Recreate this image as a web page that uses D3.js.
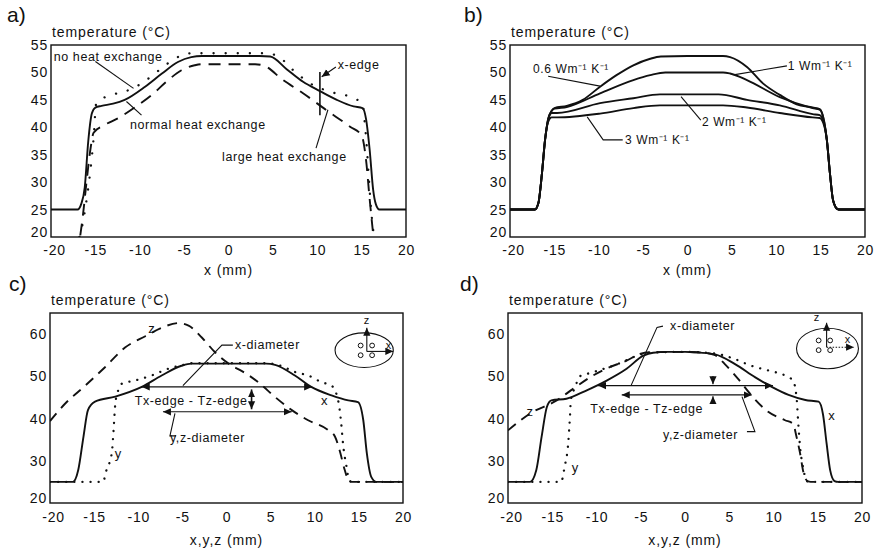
<!DOCTYPE html>
<html><head><meta charset="utf-8">
<script src="https://cdn.jsdelivr.net/npm/d3@7"></script>
<style>
body{margin:0;background:#fff}
svg text{font-family:"Liberation Sans",Arial,Helvetica,sans-serif;fill:#111}
</style></head><body>
<svg id="fig" width="875" height="551" style="background:#fff"></svg>
<script>
// ---------- tick values ----------
const xTicks = [-20,-15,-10,-5,0,5,10,15,20];
const yTicksAB = [20,25,30,35,40,45,50,55];
const yTicksCD = [20,30,40,50,60];

// ---------- panel a: [x (mm), T (°C)] ----------
const aNormal = [[-20,25],[-17.0,25],[-16.6,26],[-16.2,29],[-15.8,37.5],[-15.4,42.5],[-15.0,43.6],[-14.3,43.9],[-13,44.3],[-11.7,45],[-9.4,47.4],[-7.5,49.8],[-5.7,51.9],[-4.2,52.8],[-3,53],[0,53],[3.5,53],[4.7,52.9],[6.55,50.6],[8.4,48.3],[10.3,46.6],[12.2,45],[14.1,43.8],[15.1,43.5],[15.5,41.5],[15.9,36],[16.3,28.6],[16.6,26],[17.0,25],[20,25]];
const aNone = [[-16.8,20],[-16.5,21.9],[-16.0,26.7],[-15.6,31.6],[-15.2,38],[-14.9,44.4],[-13.2,45.9],[-11.7,46.5],[-9.8,48],[-8.3,49.8],[-6.8,51.7],[-5.3,53.1],[-4,53.5],[0,53.5],[4,53.5],[5.4,53.1],[7.3,50.4],[9.2,48],[11.4,46.5],[14.1,45.3],[15.1,44.3],[15.4,40],[15.6,36],[15.8,31],[16.1,24.4],[16.4,20]];
const aLarge = [[-16.7,20.3],[-16.4,24],[-16.0,30],[-15.6,35.5],[-15.2,39],[-14.1,40.3],[-12.4,41.7],[-10.5,43.7],[-8.65,45.9],[-6.8,48.6],[-5.3,50.4],[-3.8,51.3],[-3,51.5],[0,51.5],[3,51.5],[3.9,51.3],[6.15,48.6],[8.4,46.2],[11.05,43.1],[13.7,40.1],[15.0,38.5],[15.5,34],[15.9,27],[16.3,20.5]];

// ---------- panel b ----------
const b06 = [[-20,25],[-17.2,25],[-16.8,26.2],[-16.4,31.6],[-16.05,37.7],[-15.7,41.5],[-15.3,43],[-15.0,43.5],[-13.6,43.9],[-11.8,45],[-9.85,47.4],[-8,49.5],[-6.1,51.3],[-4.2,52.5],[-3,52.9],[0,53],[4,53],[4.8,52.8],[6.7,51],[8.5,48],[10.4,45.9],[12.3,44.2],[14.1,43.6],[14.9,43.3],[15.4,41],[15.7,37.7],[16.05,31.6],[16.4,26.7],[16.9,25.1],[17.2,25],[20,25]];
const b1 = [[-20,25],[-17.2,25],[-16.8,26.2],[-16.4,31.6],[-16.05,37.7],[-15.7,41.5],[-15.3,43],[-15.0,43.4],[-13.6,43.7],[-9.85,46.2],[-6.1,48.6],[-4.2,49.5],[-2.5,50],[0,50],[4,50],[4.8,49.8],[6.7,48.6],[10.4,45.5],[14.1,43.5],[14.9,43.2],[15.4,41],[15.7,37.7],[16.05,31.6],[16.4,26.7],[16.9,25.1],[17.2,25],[20,25]];
const b2 = [[-20,25],[-17.2,25],[-16.8,26.2],[-16.4,31.6],[-16.05,37.7],[-15.7,41.3],[-15.3,42.6],[-14.7,42.6],[-9.85,44.4],[-6.1,45.3],[-3.1,46],[0,46],[3.5,46],[6.7,45],[10.4,44],[14.1,42.4],[14.9,42.2],[15.4,40.6],[15.7,37.7],[16.05,31.6],[16.4,26.7],[16.9,25.1],[17.2,25],[20,25]];
const b3 = [[-20,25],[-17.2,25],[-16.8,26.2],[-16.4,31.6],[-16.05,37.7],[-15.7,41],[-15.3,41.8],[-14.7,41.8],[-9.85,42.5],[-6.1,43.5],[-3.1,44],[0,44],[4,44],[6.7,43.6],[10.4,42.6],[14.1,41.8],[14.9,41.7],[15.4,40.3],[15.7,37.7],[16.05,31.6],[16.4,26.7],[16.9,25.1],[17.2,25],[20,25]];

// ---------- panel c ----------
const cX = [[-20,25],[-17.4,25],[-16.8,27.8],[-16.2,35.8],[-15.7,42],[-14.9,44],[-12.6,45.2],[-9.6,47.5],[-7.35,50.2],[-5.1,52.5],[-4,53],[0,53],[4.5,53],[5.5,52.7],[7.75,50.2],[9.6,47.5],[11.9,45.5],[13.8,44.3],[14.9,43.9],[15.5,39.6],[15.9,31.8],[16.4,26.2],[17,25],[20,25]];
const cY = [[-20,25],[-14.0,25],[-13.6,27.8],[-13.0,31.8],[-12.8,37.2],[-12.6,43.5],[-12.3,46.5],[-11.9,48.2],[-10.4,49.0],[-8.5,50.2],[-6.6,51.8],[-5.1,52.6],[-4,53.1],[0,53.1],[4.5,53.1],[6,52.6],[7.8,51],[9.25,50.2],[10.8,48.6],[11.9,47.8],[12.65,44.3],[13.0,38.8],[13.2,34.1],[13.6,28.6],[13.9,25.4],[14.2,25],[20,25]];
const cZ = [[-20,39.4],[-18.3,43.5],[-16,47.8],[-13.8,52.1],[-11.5,56.8],[-9.2,59.5],[-7.35,61.5],[-5.5,62.6],[-4.3,62],[-2.8,59.2],[-1.3,55.7],[0.6,52.5],[1.7,51.3],[3.6,48.6],[5.5,45.1],[7.4,42],[9.25,39.6],[11.5,37.3],[12.3,35.7],[12.8,32.6],[13.4,27.8],[13.8,25.4],[14.2,25],[20,25]];

// ---------- panel d ----------
const dX = [[-20,25],[-17.5,25],[-16.8,27.8],[-16.2,35.7],[-15.6,42.8],[-15.1,44.3],[-13.4,44.7],[-11.1,46.7],[-8.85,49],[-6.6,51.8],[-4.7,54.9],[-3.6,55.6],[-2,55.8],[0,55.8],[1.1,55.7],[3.4,55.2],[5.65,52.9],[7.9,49.8],[9.8,47.5],[11.7,45.6],[13.6,44.4],[15.1,44],[15.6,40.9],[16,34.1],[16.4,27.8],[16.9,25.2],[17.3,25],[20,25]];
const dY = [[-20,25],[-14,25],[-13.6,28.6],[-13.2,34.1],[-13.0,40.4],[-12.9,44.3],[-12.4,47.5],[-11.9,50],[-10.7,50.8],[-9.6,51.5],[-7.5,53],[-5.5,54.8],[-4,55.6],[0,55.8],[3.4,55.4],[5.5,54.2],[7.5,52.5],[9.4,51.4],[11.3,50.2],[12.2,49],[12.6,45.1],[12.8,38.8],[13.0,33.4],[13.4,27.8],[13.7,25.4],[14,25],[20,25]];
const dZ = [[-20,37.2],[-17.5,41.2],[-14.5,44.3],[-12.6,47.1],[-10.7,49.8],[-8.5,52.2],[-6.6,53.7],[-5.1,55.3],[-4,55.7],[0,55.8],[2,55.6],[3.4,55],[4.5,52.9],[6,49.4],[7.5,45.5],[9.4,41.6],[11.3,39.6],[12.2,38.8],[12.6,35.7],[13,31.8],[13.4,27.1],[13.9,25.1],[14.2,25],[20,25]];

// ---------- drawing ----------
const svg = d3.select("#fig");
svg.append("rect").attr("width",875).attr("height",551).attr("fill","#fff");
const defs = svg.append("defs");
defs.append("marker").attr("id","ah").attr("viewBox","0 0 10 10")
  .attr("refX",10).attr("refY",5).attr("markerWidth",8).attr("markerHeight",8)
  .attr("markerUnits","userSpaceOnUse").attr("orient","auto-start-reverse")
  .append("path").attr("d","M0,0.5L10,5L0,9.5Z").attr("fill","#111");

const INK = "#111";
const FONT = '"Liberation Sans",Arial,Helvetica,sans-serif';

function panel(o){
  const x = d3.scaleLinear().domain([-20,20]).range([o.l,o.r]);
  const y = d3.scaleLinear().domain(o.yd).range([o.b,o.t]);
  const g = svg.append("g");
  defs.append("clipPath").attr("id","clip"+o.id).append("rect")
    .attr("x",o.l).attr("y",o.t).attr("width",o.r-o.l).attr("height",o.b-o.t);
  const ax = g.append("g").attr("transform",`translate(0,${o.b})`)
    .call(d3.axisBottom(x).tickValues(xTicks).tickSize(0).tickPadding(o.xpad).tickFormat(d=>String(d)));
  const ay = g.append("g").attr("transform",`translate(${o.l},0)`)
    .call(d3.axisLeft(y).tickValues(o.yt).tickSize(0).tickPadding(3).tickFormat(d=>String(d)));
  [ax,ay].forEach(a=>{
    a.select(".domain").remove();
    a.selectAll("text").attr("font-size",14).attr("letter-spacing",0.8)
      .attr("font-family",FONT).attr("fill",INK);
  });
  // keep the corner labels apart as in the reference
  ax.selectAll(".tick").filter(d=>d===-20).select("text").attr("dx",3);
  ay.selectAll(".tick").filter(d=>d===20).select("text").attr("dy","-0.05em");
  g.append("rect").attr("x",o.l).attr("y",o.t).attr("width",o.r-o.l).attr("height",o.b-o.t)
    .attr("fill","none").attr("stroke",INK).attr("stroke-width",1.4);
  g.append("text").attr("x",o.lx).attr("y",o.ly).attr("font-size",21).text(o.letter);
  g.append("text").attr("x",o.l+1).attr("y",o.t-8).attr("font-size",14).attr("letter-spacing",0.9)
    .text("temperature (°C)");
  g.append("text").attr("x",(o.l+o.r)/2).attr("y",o.b+o.xty).attr("text-anchor","middle")
    .attr("font-size",14).attr("letter-spacing",0.9).text(o.xt);
  const lines = g.append("g").attr("clip-path",`url(#clip${o.id})`);
  const gen = d3.line().x(d=>x(d[0])).y(d=>y(d[1])).curve(d3.curveMonotoneX);
  function curve(data, style){
    const p = lines.append("path").datum(data).attr("d",gen).attr("fill","none")
      .attr("stroke",INK).attr("stroke-linejoin","round");
    if(style==="solid") p.attr("stroke-width",1.9);
    else if(style==="dash") p.attr("stroke-width",1.9).attr("stroke-dasharray",o.dash);
    else p.attr("stroke-width",2.3).attr("stroke-linecap","round").attr("stroke-dasharray",o.dot);
    return p;
  }
  function text(xv,yv,s,size,anchor){
    return g.append("text").attr("x",x(xv)).attr("y",y(yv)).attr("font-size",size||12.5)
      .attr("letter-spacing",0.6).attr("text-anchor",anchor||"start").text(s);
  }
  function poly(pts,opts){
    opts = opts||{};
    const p = g.append("path").attr("d",d3.line().x(d=>x(d[0])).y(d=>y(d[1]))(pts))
      .attr("fill","none").attr("stroke",INK).attr("stroke-width",opts.w||1.1);
    if(opts.end) p.attr("marker-end","url(#ah)");
    if(opts.start) p.attr("marker-start","url(#ah)");
    if(opts.dash) p.attr("stroke-dasharray",opts.dash);
    return p;
  }
  return {x,y,g,curve,text,poly};
}

// ---- a ----
const A = panel({id:"a",l:51,r:406,t:45,b:237,yd:[20,55],yt:yTicksAB,letter:"a)",lx:7,ly:22,xt:"x (mm)",xty:38,xpad:8,dash:"12,8",dot:"0.1,12"});
A.curve(aNone,"dot");
A.curve(aLarge,"dash");
A.curve(aNormal,"solid");
A.text(-19.7,52.1,"no heat exchange");
A.poly([[-15.0,52.0],[-10.7,47.1]]);
A.text(-11.1,39.7,"normal heat exchange");
A.poly([[-11.5,44.7],[-9.8,42.2]]);
A.text(12.3,50.6,"x-edge");
A.poly([[12.1,51.0],[10.5,49.2]],{end:true});
A.poly([[10.3,50.1],[10.3,42.2]],{w:1.6});
A.text(-0.73,33.85,"large heat exchange");
A.poly([[9.86,36.2],[11.2,43.2]]);

// ---- b ----
const B = panel({id:"b",l:510,r:865,t:45,b:237,yd:[20,55],yt:yTicksAB,letter:"b)",lx:464,ly:22,xt:"x (mm)",xty:38,xpad:8,dash:"12,8",dot:"0.1,12"});
[b06,b1,b2,b3].forEach(d=>B.curve(d,"solid"));
B.text(-17.4,49.9,"0.6 Wm⁻¹ K⁻¹",12);
B.poly([[-15.7,49.3],[-9.86,47.5]]);
B.text(11.3,50.4,"1 Wm⁻¹ K⁻¹",12);
B.poly([[11.2,51.2],[5.35,49.6]]);
B.text(1.63,40.2,"2 Wm⁻¹ K⁻¹",12);
B.poly([[1.5,41.3],[-0.73,45.6]]);
B.text(-7.04,37.0,"3 Wm⁻¹ K⁻¹",12);
B.poly([[-7.3,37.7],[-9.5,37.7],[-11.3,41.9]]);

// ---- c ----
const C = panel({id:"c",l:50,r:403,t:313,b:503,yd:[20,65],yt:yTicksCD,letter:"c)",lx:9,ly:291,xt:"x,y,z (mm)",xty:42,xpad:9,dash:"10,7",dot:"0.1,8"});
C.curve(cY,"dot");
C.curve(cZ,"dash");
C.curve(cX,"solid");
C.text(-8.45,60.3,"z",13,"middle");
C.text(0.95,56.5,"x-diameter");
C.poly([[0.72,57.4],[-0.52,57.4],[-4.94,47.8]]);
C.poly([[-9.6,47.5],[9.7,47.5]],{start:true,end:true});
C.text(-10.4,43.1,"Tx-edge - Tz-edge");
C.poly([[2.84,46.9],[2.84,42.2]],{start:true,end:true,w:1.6});
C.poly([[-7.2,41.6],[7.4,41.6]],{start:true,end:true});
C.text(-6.41,34.4,"y,z-diameter");
C.poly([[-5.84,41.2],[-6.41,35.9],[-5.73,35.9]]);
C.text(11.1,43.2,"x",13,"middle");
C.text(-12.26,30.6,"y",13,"middle");
(function(P,cx,cy,ex,ey){
  const g=P.g, x=P.x, y=P.y;
  g.append("ellipse").attr("cx",x(cx)).attr("cy",y(cy)).attr("rx",x(cx+ex)-x(cx)).attr("ry",y(cy-ey)-y(cy))
    .attr("fill","none").attr("stroke",INK).attr("stroke-width",1.1);
  const ox=cx+0.3, oy=cy-0.3;
  P.poly([[ox,oy],[ox,oy+5.6]],{end:true});
  P.poly([[ox,oy],[ox+3.0,oy]],{end:true});
  P.text(ox,oy+6.6,"z",11,"middle");
  P.text(ox+2.5,oy+0.6,"x",11,"middle");
  [[-0.4,1.1],[0.9,1.1],[-0.4,-1.2],[0.9,-1.2]].forEach(p=>{
    g.append("circle").attr("cx",x(cx+p[0])).attr("cy",y(cy+p[1])).attr("r",2.4)
      .attr("fill","none").attr("stroke",INK).attr("stroke-width",1);
  });
})(C,15.6,56.2,3.3,4.1);

// ---- d ----
const D = panel({id:"d",l:508,r:862,t:313,b:503,yd:[20,65],yt:yTicksCD,letter:"d)",lx:460,ly:291,xt:"x,y,z (mm)",xty:42,xpad:9,dash:"10,7",dot:"0.1,8"});
D.curve(dY,"dot");
D.curve(dZ,"dash");
D.curve(dX,"solid");
D.text(-1.69,60.9,"x-diameter");
D.poly([[-2.49,61.9],[-3.16,61.6],[-6.1,47.8]]);
D.poly([[-9.83,47.8],[9.94,47.8]],{start:true,end:true});
D.poly([[-7.15,45.6],[7.54,45.6]],{start:true,end:true});
D.poly([[3.16,50.1],[3.16,48.1]],{end:true});
D.poly([[3.16,43.5],[3.16,45.3]],{end:true});
D.text(-10.7,41.4,"Tx-edge - Tz-edge");
D.text(-2.49,35.1,"y,z-diameter");
D.poly([[6.44,45.2],[7.9,36.9],[7.0,36.9]]);
D.text(-17.5,40.6,"z",13,"middle");
D.text(-12.4,27.4,"y",13,"middle");
D.text(16.6,39.6,"x",13,"middle");
(function(P,cx,cy,ex,ey){
  const g=P.g, x=P.x, y=P.y;
  g.append("ellipse").attr("cx",x(cx)).attr("cy",y(cy)).attr("rx",x(cx+ex)-x(cx)).attr("ry",y(cy-ey)-y(cy))
    .attr("fill","none").attr("stroke",INK).attr("stroke-width",1.1);
  const ox=cx-0.1, oy=cy+0.3;
  P.poly([[ox,oy],[ox,oy+5.8]],{end:true});
  P.poly([[ox,oy],[ox+3.1,oy]],{end:true,dash:"1.5,1.5"});
  P.text(ox-1.1,oy+6.2,"z",11,"middle");
  P.text(ox+2.4,oy+1.0,"x",11,"middle");
  [[-1.0,1.9],[0.3,1.9],[-1.0,-0.4],[0.3,-0.4]].forEach(p=>{
    g.append("circle").attr("cx",x(cx+p[0])).attr("cy",y(cy+p[1])).attr("r",2.4)
      .attr("fill","none").attr("stroke",INK).attr("stroke-width",1);
  });
})(D,16.1,56.6,3.5,4.8);
</script>
</body></html>
